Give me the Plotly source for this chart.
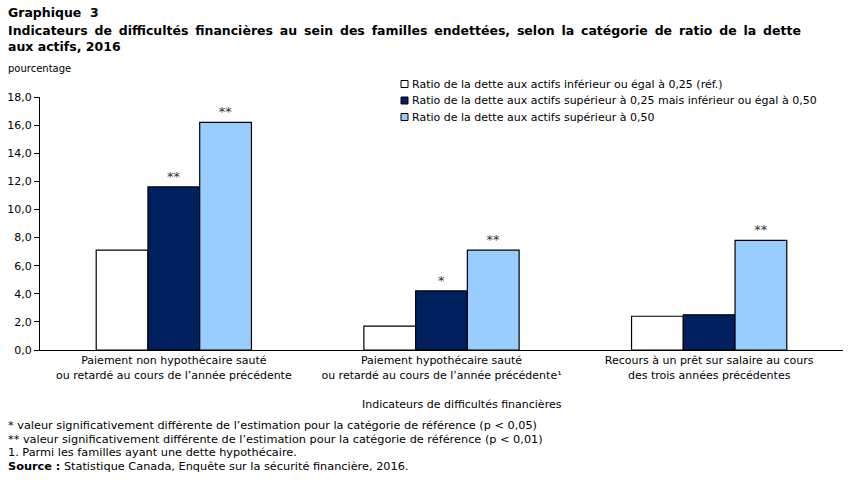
import plotly.graph_objects as go

categories = [
    "Paiement non hypothécaire sauté<br>ou retardé au cours de l’année précédente",
    "Paiement hypothécaire sauté<br>ou retardé au cours de l’année précédente¹",
    "Recours à un prêt sur salaire au cours<br>des trois années précédentes",
]
series_names = [
    "Ratio de la dette aux actifs inférieur ou égal à 0,25 (réf.)",
    "Ratio de la dette aux actifs supérieur à 0,25 mais inférieur ou égal à 0,50",
    "Ratio de la dette aux actifs supérieur à 0,50",
]
ref_values = [7.1, 1.7, 2.4]
mid_values = [11.6, 4.2, 2.5]
high_values = [16.2, 7.1, 7.8]
ref_marks = ["", "", ""]
mid_marks = ["**", "*", ""]
high_marks = ["**", "**", "**"]
colors = ["#FFFFFF", "#002060", "#99CCFF"]

W, H = 850, 480
L, R, T, B = 40, 843, 97, 350

def px(x):
    return (x - L) / (R - L)

def py(y):
    return (B - y) / (B - T)

FONT = "DejaVu Sans"

fig = go.Figure()
for name, vals, marks, col in zip(series_names, [ref_values, mid_values, high_values],
                                  [ref_marks, mid_marks, high_marks], colors):
    fig.add_trace(go.Bar(
        x=categories, y=vals, name=name, text=marks, textposition="outside",
        textfont=dict(family=FONT, size=13, color="#333333"),
        marker=dict(color=col, line=dict(color="#000000", width=1.2)),
        cliponaxis=False, showlegend=False,
    ))

ann = []
def txt(x, y, s, size=11, bold=False, xanchor="left", family=FONT, color="#000000"):
    if bold:
        s = "<b>" + s + "</b>"
    ann.append(dict(x=px(x), y=py(y), xref="paper", yref="paper", text=s, showarrow=False,
                    xanchor=xanchor, yanchor="middle", font=dict(family=family, size=size, color=color)))

title2 = "Indicateurs de difficultés financières au sein des familles endettées, selon la catégorie de ratio de la dette"
txt(6, 13, "Graphique  3", size=12.5, bold=True)
txt(6, 30, title2.replace(" ", " \u2009"), size=12.5, bold=True)
txt(6, 46, "aux actifs, 2016", size=12.5, bold=True)
txt(6, 68, "pourcentage", size=10)
txt(462, 404, "Indicateurs de difficultés financières", size=11, xanchor="center")
txt(6, 425, "* valeur significativement différente de l’estimation pour la catégorie de référence (p < 0,05)", size=11.3)
txt(6, 439, "** valeur significativement différente de l’estimation pour la catégorie de référence (p < 0,01)", size=11.3)
txt(6, 453, "1. Parmi les familles ayant une dette hypothécaire.", size=11.3)
txt(6, 466, "<b>Source :</b> Statistique Canada, Enquête sur la sécurité financière, 2016.", size=11.3)

# manual legend
shapes = []
legend_rows = [84, 100.5, 117]
for name, col, ry in zip(series_names, colors, legend_rows):
    shapes.append(dict(type="rect", xref="paper", yref="paper",
                       x0=px(401), x1=px(408), y0=py(ry - 3.5), y1=py(ry + 3.5),
                       fillcolor=col, line=dict(color="#000000", width=1)))
    txt(410, ry, name, size=11)

fig.update_layout(
    width=W, height=H,
    margin=dict(l=L, r=W - R, t=T, b=H - B, pad=0),
    paper_bgcolor="#FFFFFF", plot_bgcolor="#FFFFFF",
    separators=", ",
    barmode="group", bargap=0.42, bargroupgap=0,
    font=dict(family=FONT, size=11, color="#000000"),
    showlegend=False,
    annotations=ann,
    shapes=shapes,
    xaxis=dict(showline=True, linecolor="#000000", linewidth=1.2, ticks="",
               tickfont=dict(family=FONT, size=11), showgrid=False, zeroline=False),
    yaxis=dict(range=[0, 18], dtick=2, tickformat=".1f", showline=True, linecolor="#000000",
               linewidth=1.2, ticks="outside", ticklen=5, tickcolor="#000000",
               tickfont=dict(family=FONT, size=11), showgrid=False, zeroline=False),
)

fig.write_html("out.html")
